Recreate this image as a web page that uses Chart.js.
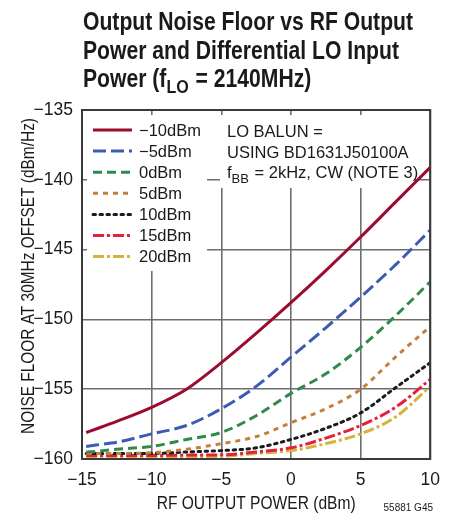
<!DOCTYPE html>
<html>
<head>
<meta charset="utf-8">
<script src="https://cdn.jsdelivr.net/npm/chart.js@4/dist/chart.umd.min.js"></script>
<style>
  html, body { margin: 0; padding: 0; background: #fff; }
  #wrap { width: 451px; height: 514px; position: relative; }
</style>
</head>
<body>
<div id="wrap"><canvas id="ruido"></canvas></div>
<script>
// RF output power (dBm), shared by every curve
var potenciaRF = [-14.7, -14, -12.5, -10, -7.5, -5, -2.5, 0, 2.5, 5, 7.5, 10];

// noise floor (dBm/Hz) for each LO input level
var loMenos10 = [-158.1, -157.85, -157.3, -156.3, -155.0, -153.1, -151.0, -148.8, -146.5, -144.1, -141.6, -139.1];
var loMenos5  = [-159.1, -159.0, -158.8, -158.2, -157.6, -156.4, -154.8, -152.7, -150.6, -148.4, -146.1, -143.6];
var lo0       = [-159.5, -159.45, -159.3, -159.1, -158.6, -158.1, -156.9, -155.3, -153.9, -152.0, -149.75, -147.3];
var lo5       = [-159.6, -159.6, -159.6, -159.55, -159.3, -158.9, -158.4, -157.4, -156.4, -155.0, -152.7, -150.5];
var lo10      = [-159.6, -159.6, -159.6, -159.6, -159.5, -159.4, -159.2, -158.6, -157.8, -156.7, -154.9, -153.1];
var lo15      = [-159.75, -159.75, -159.75, -159.75, -159.72, -159.7, -159.5, -159.2, -158.5, -157.6, -156.3, -154.3];
var lo20      = [-159.85, -159.85, -159.85, -159.85, -159.82, -159.8, -159.6, -159.4, -158.9, -158.2, -157.0, -154.8];

var etiquetas = ['\u221210dBm', '\u22125dBm', '0dBm', '5dBm', '10dBm', '15dBm', '20dBm'];
var ticksX = [-15, -10, -5, 0, 5, 10];
var ticksY = [-160, -155, -150, -145, -140, -135];

var FUENTE = "'Liberation Sans', Arial, sans-serif";

function puntos(serie) {
  return potenciaRF.map(function (x, i) { return { x: x, y: serie[i] }; });
}

var estilos = [
  { color: '#9c0c2e', dash: [] },
  { color: '#3c5bb3', dash: [13, 5] },
  { color: '#2f8a4b', dash: [9, 5] },
  { color: '#c47f3c', dash: [5, 5] },
  { color: '#1b1b1b', dash: [2.5, 4.5] },
  { color: '#e4213b', dash: [11, 3, 3, 3] },
  { color: '#d6b33d', dash: [11, 3, 3, 3] }
];
var series = [loMenos10, loMenos5, lo0, lo5, lo10, lo15, lo20];

const chartData = {
  datasets: series.map(function (s, i) {
    return {
      label: etiquetas[i],
      data: puntos(s),
      borderColor: estilos[i].color,
      backgroundColor: estilos[i].color,
      borderDash: estilos[i].dash,
      borderWidth: 3,
      borderCapStyle: i == 4 ? 'round' : 'butt',
      pointRadius: 0,
      cubicInterpolationMode: 'monotone'
    };
  })
};

function conMenos(v) {
  return String(v).replace('-', '\u2212');
}

// condensed text: squeeze horizontally by factor f
function angosto(ctx, txt, x, y, f) {
  ctx.save();
  ctx.translate(x, y);
  ctx.scale(f, 1);
  ctx.fillText(txt, 0, 0);
  ctx.restore();
  return ctx.measureText(txt).width * f;
}

// title, legend box, note and axis titles drawn straight on the canvas
const textos = {
  id: 'textos',
  beforeDatasetsDraw: function (chart) {
    var ctx = chart.ctx, a = chart.chartArea;
    ctx.save();
    ctx.fillStyle = '#fff';
    ctx.fillRect(a.left + 5, a.top + 5, 207 - a.left - 5, 271 - a.top - 5);
    ctx.fillRect(220, a.top + 5, 195, 188 - a.top - 5);
    ctx.restore();
  },
  afterDatasetsDraw: function (chart) {
    var ctx = chart.ctx, a = chart.chartArea;
    ctx.save();

    // frame
    ctx.strokeStyle = '#3a3a3a';
    ctx.lineWidth = 2;
    ctx.strokeRect(a.left, a.top, a.right - a.left, a.bottom - a.top);

    // legend
    ctx.font = '16.5px ' + FUENTE;
    ctx.textBaseline = 'middle';
    ctx.textAlign = 'left';
    for (var i = 0; i < etiquetas.length; i++) {
      var y = 130 + i * 21.1;
      ctx.beginPath();
      ctx.strokeStyle = estilos[i].color;
      ctx.lineWidth = 3;
      ctx.setLineDash(estilos[i].dash);
      ctx.lineCap = i == 4 ? 'round' : 'butt';
      ctx.moveTo(93, y);
      ctx.lineTo(132, y);
      ctx.stroke();
      ctx.setLineDash([]);
      ctx.fillStyle = '#1a1a1a';
      ctx.fillText(etiquetas[i], 139, y + 1);
    }

    // note
    ctx.textBaseline = 'alphabetic';
    ctx.fillText('LO BALUN =', 227, 137);
    ctx.fillText('USING BD1631J50100A', 227, 158);
    var xf = 227;
    ctx.fillText('f', xf, 178);
    xf += ctx.measureText('f').width;
    ctx.font = '13px ' + FUENTE;
    ctx.fillText('BB', xf, 183);
    xf += ctx.measureText('BB').width + 1;
    ctx.font = '16.5px ' + FUENTE;
    ctx.fillText(' = 2kHz, CW (NOTE 3)', xf, 178);

    // title, condensed bold
    ctx.fillStyle = '#1a1a1a';
    ctx.font = 'bold 25px ' + FUENTE;
    var f = 330 / ctx.measureText('Output Noise Floor vs RF Output').width;
    angosto(ctx, 'Output Noise Floor vs RF Output', 83, 30, f);
    angosto(ctx, 'Power and Differential LO Input', 83, 58.5, f);
    var xt = 83;
    xt += angosto(ctx, 'Power (f', xt, 87, f);
    ctx.font = 'bold 19px ' + FUENTE;
    xt += angosto(ctx, 'LO', xt, 93, f) + 1;
    ctx.font = 'bold 25px ' + FUENTE;
    angosto(ctx, ' = 2140MHz)', xt, 87, f);

    // axis titles
    ctx.font = '18px ' + FUENTE;
    ctx.textAlign = 'center';
    ctx.textBaseline = 'middle';
    var tx = 'RF OUTPUT POWER (dBm)';
    angosto(ctx, tx, (a.left + a.right) / 2, 504, 199 / ctx.measureText(tx).width);
    var ty = 'NOISE FLOOR AT 30MHz OFFSET (dBm/Hz)';
    ctx.translate(29, 276);
    ctx.rotate(-Math.PI / 2);
    angosto(ctx, ty, 0, 0, 316 / ctx.measureText(ty).width);
    ctx.restore();

    ctx.save();
    ctx.font = '10px ' + FUENTE;
    ctx.fillStyle = '#1a1a1a';
    ctx.textAlign = 'right';
    ctx.textBaseline = 'middle';
    ctx.fillText('55881 G45', 433, 508);
    ctx.restore();
  }
};

const options = {
  responsive: true,
  maintainAspectRatio: false,
  animation: false,
  layout: { padding: { left: 0, right: 17, top: 110, bottom: 0 } },
  scales: {
    x: {
      type: 'linear',
      min: -15,
      max: 10,
      afterFit: function (s) { s.height = 55; },
      afterBuildTicks: function (s) { s.ticks = ticksX.map(function (v) { return { value: v }; }); },
      grid: { color: '#6e6e6e', lineWidth: 1.6, drawTicks: false },
      border: { display: false },
      ticks: {
        padding: 11,
        color: '#1a1a1a',
        font: { family: FUENTE, size: 17.5 },
        callback: conMenos
      }
    },
    y: {
      type: 'linear',
      min: -160,
      max: -135,
      afterFit: function (s) { s.width = 82; },
      afterBuildTicks: function (s) { s.ticks = ticksY.map(function (v) { return { value: v }; }); },
      grid: { color: '#6e6e6e', lineWidth: 1.6, drawTicks: false },
      border: { display: false },
      ticks: {
        padding: 9,
        color: '#1a1a1a',
        font: { family: FUENTE, size: 17.5 },
        callback: conMenos
      }
    }
  },
  plugins: {
    legend: { display: false },
    title: { display: false },
    tooltip: { enabled: false }
  }
};

new Chart(document.getElementById('ruido'), {
  type: 'line',
  data: chartData,
  options: options,
  plugins: [textos]
});
</script>
</body>
</html>
